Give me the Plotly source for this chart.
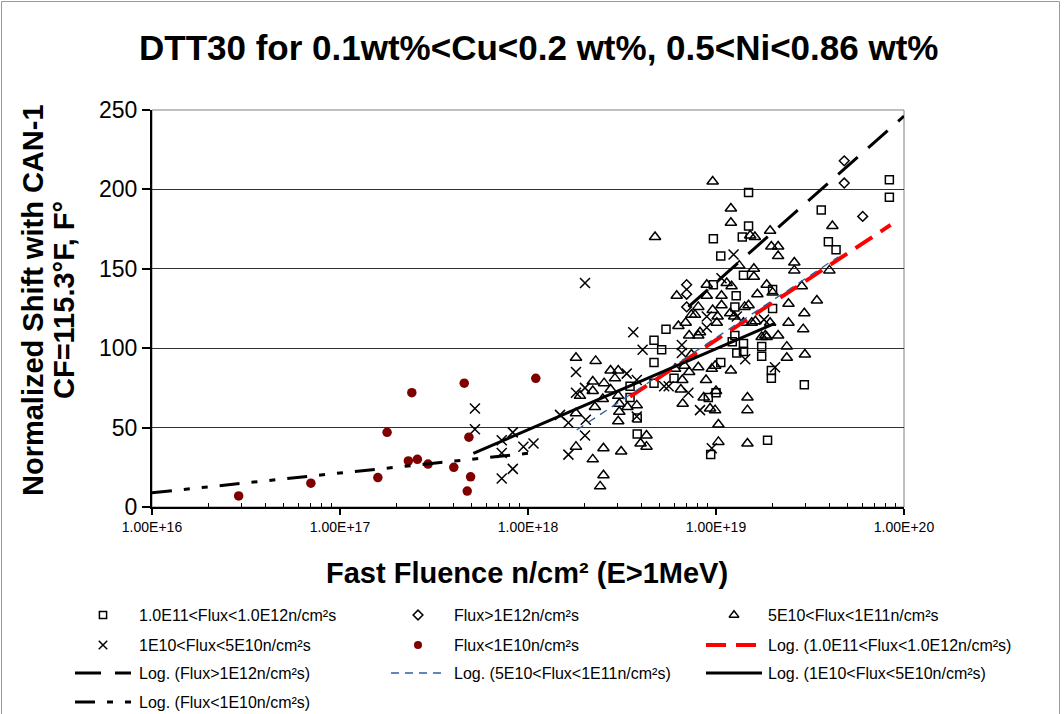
import numpy as np
import plotly.graph_objects as go

W, H = 1064, 714
FONT = "Liberation Sans, Arial, sans-serif"

# Normalized shift (F°) against fast fluence (n/cm², E>1MeV), one list per flux range
flux_1e11_1e12 = [
    (3.49e18, 69), (3.49e18, 76), (3.81e18, 56), (3.81e18, 46), (4.68e18, 105),
    (4.68e18, 91), (4.68e18, 78), (5.14e18, 99), (5.42e18, 112), (5.98e18, 81),
    (9.1e18, 69), (9.37e18, 33), (9.68e18, 169), (9.68e18, 140), (1.0e19, 72),
    (1.06e19, 158), (1.06e19, 91), (1.22e19, 104), (1.26e19, 108), (1.26e19, 126),
    (1.28e19, 133), (1.29e19, 97), (1.38e19, 170), (1.40e19, 146), (1.40e19, 103),
    (1.40e19, 98), (1.49e19, 198), (1.49e19, 177), (1.75e19, 101), (1.75e19, 95),
    (1.88e19, 42), (1.97e19, 86), (1.97e19, 81), (2.0e19, 137), (2.0e19, 125),
    (2.95e19, 77), (3.63e19, 187), (3.96e19, 167), (4.35e19, 162), (8.36e19, 206),
    (8.36e19, 195),
]

flux_gt_1e12 = [
    (6.98e18, 140), (6.98e18, 134), (6.98e18, 126),
    (4.81e19, 218), (4.81e19, 204), (6.03e19, 183),
]

flux_5e10_1e11 = [
    (1.80e18, 94), (1.80e18, 59), (1.80e18, 38), (1.89e18, 70), (2.21e18, 79),
    (2.21e18, 30), (2.27e18, 63), (2.29e18, 92), (2.21e18, 73), (2.42e18, 13),
    (2.50e18, 68), (2.52e18, 37), (2.52e18, 20), (2.54e18, 78), (2.75e18, 86),
    (2.75e18, 74), (2.90e18, 81), (3.02e18, 86), (3.02e18, 54), (3.02e18, 70),
    (3.06e18, 60), (3.06e18, 65), (3.13e18, 35), (3.38e18, 63), (3.79e18, 64),
    (3.97e18, 40), (4.27e18, 45), (4.27e18, 38), (4.74e18, 170), (6.06e18, 87),
    (6.18e18, 133), (6.31e18, 114), (6.62e18, 80), (6.5e18, 74), (6.65e18, 65),
    (6.8e18, 89), (6.9e18, 116), (7.73e18, 121), (8.05e18, 126), (8.05e18, 108),
    (8.22e18, 110), (8.05e18, 88), (8.85e18, 80), (8.6e18, 69), (8.93e18, 140),
    (8.93e18, 133), (9.6e18, 205), (9.89e18, 61), (9.9e18, 89), (1.01e19, 116),
    (1.03e19, 52), (1.03e19, 41), (1.07e19, 133), (1.07e19, 127), (1.14e19, 141),
    (1.20e19, 188), (1.20e19, 179), (1.20e19, 86), (1.19e19, 122), (1.21e19, 139),
    (1.33e19, 152), (1.47e19, 69), (1.47e19, 61), (1.47e19, 40), (1.49e19, 127),
    (1.55e19, 116), (1.52e19, 171), (1.61e19, 170), (1.59e19, 150), (1.59e19, 145),
    (1.86e19, 140), (1.94e19, 174), (1.97e19, 164), (1.94e19, 116), (1.86e19, 107),
    (1.83e19, 108), (2.14e19, 164), (2.14e19, 158), (2.14e19, 108), (2.43e19, 128),
    (2.43e19, 116), (2.38e19, 101), (2.38e19, 94), (2.61e19, 154), (2.61e19, 149),
    (2.86e19, 139), (2.95e19, 122), (2.91e19, 112), (2.97e19, 96), (3.44e19, 130),
    (4.01e19, 149), (4.16e19, 177), (1.42e19, 126), (9.6e18, 124), (1.02e19, 120),
    (1.62e19, 117), (1.66e19, 134), (2.0e19, 135), (1.75e19, 107), (7.4e18, 96),
    (9.5e18, 87), (7.2e18, 85), (1.0e19, 73), (9.3e18, 62), (7.2e18, 108),
    (1.25e19, 120), (1.4e19, 116), (7.4e18, 121),
]

flux_1e10_5e10 = [
    (5.22e17, 62), (5.22e17, 49), (7.25e17, 42), (7.25e17, 34), (7.25e17, 18),
    (8.3e17, 47), (8.3e17, 24), (9.45e17, 38), (1.07e18, 40), (1.48e18, 58),
    (1.64e18, 53), (1.64e18, 33), (1.80e18, 85), (1.80e18, 72), (2.01e18, 141),
    (2.01e18, 75), (2.03e18, 55), (2.01e18, 45), (3.35e18, 84), (3.63e18, 110),
    (3.79e18, 80), (3.79e18, 57), (4.07e18, 99), (5.3e18, 76), (5.6e18, 76),
    (6.58e18, 102), (6.58e18, 97), (7.13e18, 72), (8.22e18, 61), (8.93e18, 120),
    (8.93e18, 113), (9.5e18, 37), (1.07e19, 144), (1.24e19, 159), (1.29e19, 120),
    (1.43e19, 93), (2.06e19, 88), (1.8e19, 118),
]

flux_lt_1e10 = [
    (2.89e16, 7), (7.0e16, 15), (1.59e17, 18.5), (1.78e17, 47), (2.41e17, 72),
    (2.31e17, 29), (2.58e17, 30), (2.94e17, 27), (4.03e17, 25), (4.58e17, 78),
    (4.85e17, 44), (4.95e17, 19), (4.75e17, 10), (1.1e18, 81),
]

# Logarithmic trendlines, shift = a*ln(fluence) + b, over the fluence span shown
trend_1e11_1e12 = dict(a=33.87, b=-1376.6, start=3.49e18, end=8.49e19)
trend_gt_1e12 = dict(a=45.47, b=-1847.8, start=7.13e18, end=1.0e20)
trend_5e10_1e11 = dict(a=34.05, b=-1383.1, start=1.815e18, end=4.48e19)
trend_1e10_5e10 = dict(a=22.15, b=-869.4, start=5.12e17, end=2.06e19)
trend_lt_1e10 = dict(a=5.385, b=-189.4, start=1.0e16, end=1.09e18)

x_tick_vals = [1e16, 1e17, 1e18, 1e19, 1e20]
x_tick_text = ["1.00E+16", "1.00E+17", "1.00E+18", "1.00E+19", "1.00E+20"]
x_minor_vals = [k * 10.0 ** e for e in range(16, 20) for k in range(2, 10)]
y_tick_vals = [0, 50, 100, 150, 200, 250]

title_text = "DTT30 for 0.1wt%<Cu<0.2 wt%, 0.5<Ni<0.86 wt%"
y_title_lines = ["Normalized Shift with CAN-1", "CF=115.3°F, F°"]
x_title_text = "Fast Fluence n/cm² (E>1MeV)"

# plot area box in figure pixels
PX0, PX1, PY0, PY1 = 152, 904, 110, 507


def px(x):
    return x / W


def py(y):
    return 1 - y / H


marker_styles = {
    "sq": dict(symbol="square-open", size=8, color="black", line=dict(color="black", width=1.5)),
    "dia": dict(symbol="diamond-open", size=7.5, color="black", line=dict(color="black", width=1.5)),
    "tri": dict(symbol="triangle-up-open", size=10, color="black", line=dict(color="black", width=1.5)),
    "x": dict(symbol="x-thin", size=10, color="black", line=dict(color="black", width=1.5)),
    "dot": dict(symbol="circle", size=9.5, color="#800000", line=dict(width=0)),
}

line_styles = {
    "t_1e11": dict(color="#FF0000", width=4, dash="20px,10px"),
    "t_gt": dict(color="black", width=3, dash="26px,14px"),
    "t_5e10": dict(color="#2F5F9E", width=1.3, dash="8px,6px"),
    "t_1e10": dict(color="black", width=3, dash="solid"),
    "t_lt": dict(color="black", width=3, dash="20px,12px,6px,12px,6px,12px"),
}

fig = go.Figure()

for key, pts in [("sq", flux_1e11_1e12), ("dia", flux_gt_1e12), ("tri", flux_5e10_1e11),
                 ("x", flux_1e10_5e10), ("dot", flux_lt_1e10)]:
    fig.add_trace(go.Scatter(
        x=[p[0] for p in pts], y=[p[1] for p in pts], mode="markers",
        marker=marker_styles[key], showlegend=False, hoverinfo="x+y",
        xaxis="x", yaxis="y",
    ))


def trend_curve(t):
    f = np.logspace(np.log10(t["start"]), np.log10(t["end"]), 80)
    return f, t["a"] * np.log(f) + t["b"]


for key, t in [("t_1e11", trend_1e11_1e12), ("t_gt", trend_gt_1e12), ("t_5e10", trend_5e10_1e11),
               ("t_1e10", trend_1e10_5e10), ("t_lt", trend_lt_1e10)]:
    f, s = trend_curve(t)
    fig.add_trace(go.Scatter(x=f, y=s, mode="lines", line=line_styles[key],
                             showlegend=False, hoverinfo="skip", xaxis="x", yaxis="y"))

# ---- legend block below the chart (3 columns, Excel order) ----
legend_entries = [
    ("sq", "1.0E11<Flux<1.0E12n/cm²s"),
    ("dia", "Flux>1E12n/cm²s"),
    ("tri", "5E10<Flux<1E11n/cm²s"),
    ("x", "1E10<Flux<5E10n/cm²s"),
    ("dot", "Flux<1E10n/cm²s"),
    ("t_1e11", "Log. (1.0E11<Flux<1.0E12n/cm²s)"),
    ("t_gt", "Log. (Flux>1E12n/cm²s)"),
    ("t_5e10", "Log. (5E10<Flux<1E11n/cm²s)"),
    ("t_1e10", "Log. (1E10<Flux<5E10n/cm²s)"),
    ("t_lt", "Log. (Flux<1E10n/cm²s)"),
]
leg_rows = [615, 645, 673, 702]
leg_cols = [(75, 131, 137), (391, 445, 452), (706, 762, 766)]

# legend keys are a little smaller than the plotted markers
legend_marker_scale = {"sq": 0.9, "dia": 1.0, "tri": 0.85, "x": 0.85, "dot": 0.85}

shapes = []
annotations = []
for i, (key, label) in enumerate(legend_entries):
    r, c = divmod(i, 3)
    k0, k1, tx = leg_cols[c]
    yy = leg_rows[r]
    if key in marker_styles:
        mk = dict(marker_styles[key])
        mk["size"] = mk["size"] * legend_marker_scale[key]
        fig.add_trace(go.Scatter(
            x=[(k0 + k1) / 2], y=[yy], mode="markers", marker=mk,
            showlegend=False, hoverinfo="skip", xaxis="x2", yaxis="y2",
        ))
    else:
        st = line_styles[key]
        shapes.append(dict(type="line", xref="paper", yref="paper",
                           x0=px(k0), x1=px(k1), y0=py(yy), y1=py(yy),
                           line=dict(color=st["color"], width=st["width"], dash=st["dash"])))
    annotations.append(dict(text=label, x=px(tx), y=py(yy), xref="paper", yref="paper",
                            xanchor="left", yanchor="middle", showarrow=False,
                            font=dict(family=FONT, size=16, color="black")))

# titles
annotations.append(dict(text="<b>%s</b>" % title_text, x=px(538), y=py(48), xref="paper", yref="paper",
                        xanchor="center", yanchor="middle", showarrow=False,
                        font=dict(family=FONT, size=35, color="black")))
annotations.append(dict(text="<b>%s</b>" % y_title_lines[0], x=px(33), y=py(300), xref="paper", yref="paper",
                        xanchor="center", yanchor="middle", showarrow=False, textangle=-90,
                        font=dict(family=FONT, size=29, color="black")))
annotations.append(dict(text="<b>%s</b>" % y_title_lines[1], x=px(64), y=py(300), xref="paper", yref="paper",
                        xanchor="center", yanchor="middle", showarrow=False, textangle=-90,
                        font=dict(family=FONT, size=29, color="black")))
annotations.append(dict(text="<b>%s</b>" % x_title_text, x=px(527), y=py(573), xref="paper", yref="paper",
                        xanchor="center", yanchor="middle", showarrow=False,
                        font=dict(family=FONT, size=29, color="black")))

# plot area frame and outer chart border
shapes.append(dict(type="rect", xref="x domain", yref="y domain", x0=0, x1=1, y0=0, y1=1,
                   line=dict(color="#808080", width=1), layer="below"))
shapes.append(dict(type="rect", xref="paper", yref="paper", x0=px(1.5), x1=px(1059.5),
                   y0=-0.2, y1=py(1.5), line=dict(color="#9a9a9a", width=1), layer="below"))

fig.update_layout(
    width=W, height=H,
    margin=dict(l=0, r=0, t=0, b=0),
    paper_bgcolor="white", plot_bgcolor="rgba(0,0,0,0)",
    font=dict(family=FONT, color="black"),
    showlegend=False,
    xaxis=dict(
        type="log", range=[16, 20], domain=[px(PX0), px(PX1)], anchor="y",
        tickmode="array", tickvals=x_tick_vals, ticktext=x_tick_text,
        ticks="outside", ticklen=6, tickwidth=1.5, tickcolor="black",
        tickfont=dict(family=FONT, size=14, color="black"),
        minor=dict(tickmode="array", tickvals=x_minor_vals, ticks="inside", ticklen=4,
                   tickwidth=1, tickcolor="black", showgrid=False),
        showline=True, linecolor="black", linewidth=2, showgrid=False, zeroline=False,
        automargin=False, fixedrange=True,
    ),
    yaxis=dict(
        range=[0, 250], domain=[py(PY1), py(PY0)], anchor="x",
        tickmode="array", tickvals=y_tick_vals,
        ticks="outside", ticklen=8, tickwidth=1.5, tickcolor="black",
        tickfont=dict(family=FONT, size=23, color="black"),
        showline=True, linecolor="black", linewidth=2,
        showgrid=True, gridcolor="#303030", gridwidth=1, zeroline=False,
        automargin=False, fixedrange=True,
    ),
    xaxis2=dict(domain=[0, 1], range=[0, W], anchor="y2", visible=False, fixedrange=True),
    yaxis2=dict(domain=[0, 1], range=[H, 0], anchor="x2", visible=False, fixedrange=True),
    shapes=shapes,
    annotations=annotations,
)

fig.write_html("out.html")
